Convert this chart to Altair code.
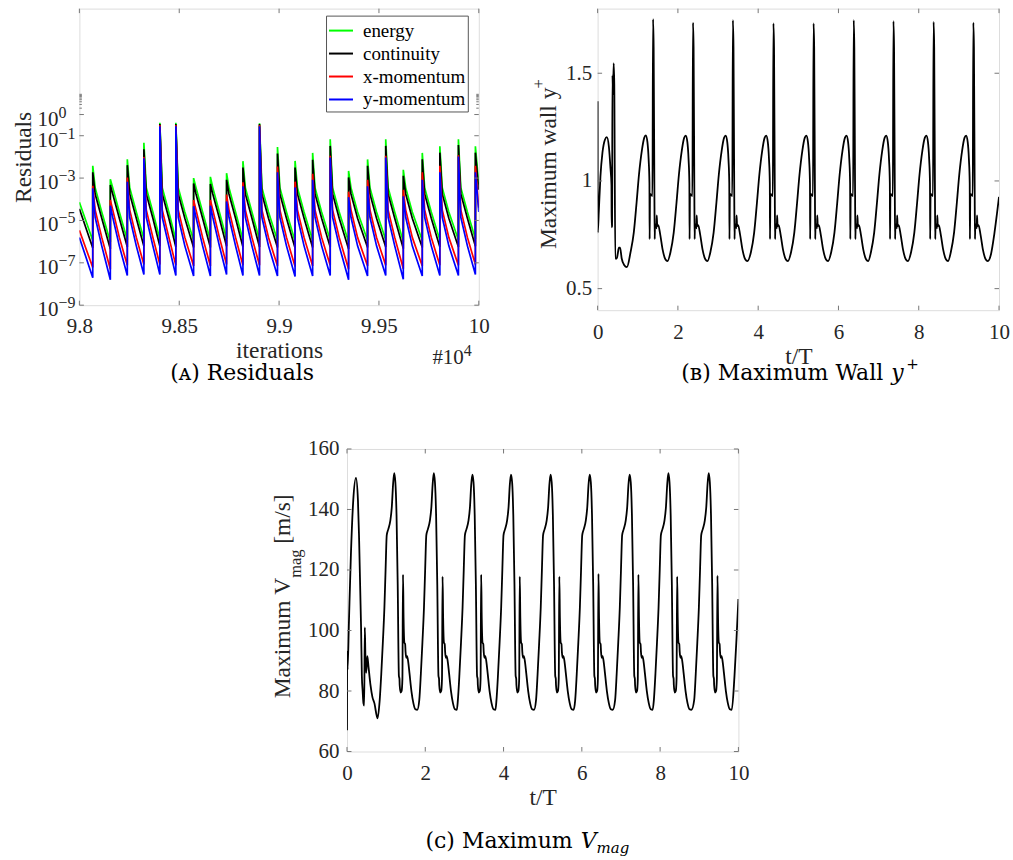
import altair as alt
import pandas as pd

FONT = "Liberation Serif"
CAPFONT = "DejaVu Serif"
TXT = "#262626"
FRAME = "#767676"
TL = 4.5
NB = "\u00a0"

# ---------------- (A) residuals : values read as log10 ----------------
A_SERIES = ["energy", "continuity", "x-momentum", "y-momentum"]
A_COLORS = ["#00ff00", "#000000", "#ff0000", "#0000ff"]
A_SPIKE_X = [9.8067, 9.8155, 9.8240, 9.8323, 9.8403, 9.8483, 9.8572, 9.8656, 9.8737,
             9.8819, 9.8902, 9.8992, 9.9080, 9.9168, 9.9256, 9.9348, 9.9443, 9.9534,
             9.9622, 9.9717, 9.9805, 9.9898, 9.9983]
A_PEAK_ENERGY = [-2.42, -3.05, -2.11, -1.33, -0.39, -0.39, -3.00, -2.94, -2.77, -2.20, -0.41, -1.53,
                 -2.19, -1.81, -1.17, -2.66, -2.12, -1.17, -2.61, -1.81, -1.50, -1.17, -1.50]
A_PEAK_CONT = [-2.73, -3.33, -2.39, -1.64, -0.45, -0.45, -3.25, -3.28, -3.08, -2.50, -0.45, -1.84,
               -2.50, -2.14, -1.48, -2.97, -2.42, -1.48, -2.89, -2.11, -1.80, -1.44, -1.80]
A_PEAK_XMOM = [-3.36, -4.03, -2.97, -2.00, -0.50, -0.50, -4.03, -4.03, -3.78, -3.20, -0.50, -2.45,
               -3.17, -2.80, -1.95, -3.64, -3.08, -1.95, -3.55, -2.73, -2.42, -1.92, -2.42]
A_PEAK_YMOM = [-3.48, -4.30, -3.17, -2.06, -0.55, -0.55, -4.33, -4.30, -4.10, -3.39, -0.55, -2.73,
               -3.44, -3.08, -2.03, -3.90, -3.39, -2.03, -3.86, -3.08, -2.73, -1.98, -2.73]
A_TROUGH_ENERGY = [-5.95, -6.02, -5.92, -5.88, -5.88, -5.92, -5.95, -5.95, -5.88, -5.92, -5.92, -5.95,
                   -5.98, -5.95, -5.92, -6.02, -5.95, -5.92, -6.00, -5.95, -5.92, -5.92, -5.88]
A_TROUGH_CONT = [-6.30, -6.35, -6.25, -6.22, -6.22, -6.25, -6.28, -6.28, -6.22, -6.25, -6.25, -6.28,
                 -6.30, -6.28, -6.25, -6.35, -6.28, -6.25, -6.33, -6.28, -6.25, -6.25, -6.22]
A_TROUGH_XMOM = [-7.22, -7.30, -7.12, -7.08, -7.08, -7.12, -7.15, -7.15, -7.08, -7.12, -7.12, -7.15,
                 -7.18, -7.15, -7.12, -7.30, -7.15, -7.12, -7.28, -7.15, -7.12, -7.12, -7.08]
A_TROUGH_YMOM = [-7.70, -7.80, -7.60, -7.55, -7.55, -7.60, -7.62, -7.62, -7.55, -7.60, -7.60, -7.62,
                 -7.65, -7.62, -7.60, -7.80, -7.62, -7.60, -7.78, -7.62, -7.60, -7.60, -7.55]
A_START = [-4.14, -4.45, -5.47, -5.80]     # value at 9.8
A_KNEE_DX = 0.0012                          # just after each jump
A_KNEE = [-3.45, -3.75, -4.50, -4.85]
A_MID_DX = 0.0045
A_MID = [-4.60, -4.90, -5.80, -6.20]
A_END = [-3.30, -3.55, -4.40, -4.60]        # value at 10.0
A_XTICKS = [9.8, 9.85, 9.9, 9.95, 10.0]
A_YTICK_EXP = [-9, -7, -5, -3, -1, 0]
A_YMINOR = [2, 3, 4, 5, 6, 7, 8, 9]

A_PEAKS = [A_PEAK_ENERGY, A_PEAK_CONT, A_PEAK_XMOM, A_PEAK_YMOM]
A_TROUGHS = [A_TROUGH_ENERGY, A_TROUGH_CONT, A_TROUGH_XMOM, A_TROUGH_YMOM]

rows = []
for s, name in enumerate(A_SERIES):
    pts = [(9.8, A_START[s])]
    n = len(A_SPIKE_X)
    for i, xs in enumerate(A_SPIKE_X):
        pts.append((xs, A_TROUGHS[s][i]))
        pts.append((xs, A_PEAKS[s][i]))
        if i < n - 1:
            pts.append((xs + A_KNEE_DX, A_KNEE[s]))
            pts.append((xs + A_MID_DX, A_MID[s]))
        else:
            pts.append((10.0, A_END[s]))
    for k, (x, v) in enumerate(pts):
        rows.append({"series": name, "x": x, "y": 10.0 ** v, "k": k})
df_a = pd.DataFrame(rows)

# ---------------- (B) maximum wall y+ ----------------
B_START_T = [0.0, 0.004, 0.03, 0.07, 0.12, 0.18, 0.23, 0.28, 0.32, 0.345, 0.35, 0.36, 0.37,
             0.385, 0.40, 0.415, 0.44, 0.48, 0.50, 0.53, 0.56, 0.60, 0.66, 0.73]
B_START_V = [1.37, 0.76, 0.86, 1.02, 1.13, 1.19, 1.203, 1.16, 1.06, 0.98, 0.785, 0.79, 1.49,
             1.40, 1.546, 1.45, 0.64, 0.64, 0.66, 0.69, 0.69, 0.64, 0.61, 0.60]
B_CYC_D = [-0.38, -0.30, -0.23, -0.17, -0.10, -0.04, 0.00, 0.04, 0.07, 0.09, 0.095, 0.105, 0.165,
           0.18, 0.195, 0.215, 0.222, 0.228, 0.265, 0.272, 0.285, 0.31, 0.36, 0.42, 0.49, 0.54]
B_CYC_V = [0.67, 0.76, 0.90, 1.03, 1.14, 1.20, None, 1.18, 1.10, 0.99, 0.73, 0.94, 0.93,
           "S", 1.62, 0.90, 0.73, 0.80, 0.78, 0.84, 0.79, 0.795, 0.75, 0.68, 0.635, 0.628]
B_PEAK_T = [1.201, 2.196, 3.19, 4.20, 5.20, 6.20, 7.19, 8.19, 9.18]
B_PEAK_V = [1.212, 1.21, 1.21, 1.21, 1.21, 1.21, 1.21, 1.21, 1.21]
B_SPIKE_V = [1.751, 1.735, 1.746, 1.731, 1.731, 1.746, 1.742, 1.738, 1.735]
B_END_T = [9.80, 9.88, 9.95, 10.0]
B_END_V = [0.66, 0.75, 0.85, 0.926]
B_XTICKS = [0, 2, 4, 6, 8, 10]
B_YTICKS = [0.5, 1.0, 1.5]

# ---------------- (C) maximum V_mag ----------------
C_START_T = [0.0, 0.004, 0.015, 0.05, 0.10, 0.16, 0.23, 0.28, 0.31, 0.36, 0.38, 0.40, 0.42, 0.44,
             0.455, 0.47, 0.49, 0.52, 0.55, 0.60, 0.65, 0.70, 0.78]
C_START_V = [67, 93, 87, 103, 125, 143, 150.4, 143, 130, 101, 85, 80, 76, 75.2,
             101, 92, 86, 91.5, 88, 82, 78, 76, 71]
C_CYC_D = [-0.37, -0.33, -0.29, -0.25, -0.22, -0.19, -0.15, -0.10, -0.06, -0.03, 0.0, 0.03, 0.06,
           0.09, 0.12, 0.135, 0.14, 0.165, 0.19, 0.21, 0.225, 0.24, 0.26, 0.28, 0.29, 0.31, 0.33,
           0.36, 0.39, 0.44, 0.49, 0.54, 0.59]
C_CYC_V = [77, 85.6, 96, 107.6, 120, 131.5, 133.5, 136.2, 141, 148, None, 149, 138,
           115, 85, 84, 82, 79.5, 80, 84, "S", 104, 96, 95.5, 93, 91, 91.5,
           89.5, 86, 80, 76, 74, 73.8]
C_PEAK_T = [1.206, 2.217, 3.203, 4.189, 5.20, 6.20, 7.22, 8.21, 9.24]
C_PEAK_V = [152, 152, 151.5, 151.5, 151.5, 151.5, 151.5, 152, 152]
C_SPIKE_V = [118.5, 117.8, 118.5, 117.8, 117.8, 118.7, 118.5, 117.8, 118.1]
C_END_T = [9.90, 9.95, 10.0]
C_END_V = [85, 97, 110.4]
C_XTICKS = [0, 2, 4, 6, 8, 10]
C_YTICKS = [60, 80, 100, 120, 140, 160]


def build(start_t, start_v, cyc_d, cyc_v, peak_t, peak_v, spike_v, end_t, end_v):
    t, v = list(start_t), list(start_v)
    for p, pv, sv in zip(peak_t, peak_v, spike_v):
        for d, val in zip(cyc_d, cyc_v):
            t.append(p + d)
            v.append(pv if val is None else (sv if val == "S" else val))
    t += end_t
    v += end_v
    return pd.DataFrame({"t": t, "v": v, "k": range(len(t))})


df_b = build(B_START_T, B_START_V, B_CYC_D, B_CYC_V, B_PEAK_T, B_PEAK_V, B_SPIKE_V, B_END_T, B_END_V)
df_c = build(C_START_T, C_START_V, C_CYC_D, C_CYC_V, C_PEAK_T, C_PEAK_V, C_SPIKE_V, C_END_T, C_END_V)

LBL = "datum.value + ''"


def xaxis(values, title, lp):
    return alt.Axis(values=values, labelExpr=LBL, ticks=False, tickSize=0, domain=False, grid=False,
                    labelFlush=False, labelOverlap=False, labelPadding=lp, labelFont=FONT,
                    labelFontSize=21, labelColor=TXT, title=title, titleFont=FONT,
                    titleFontSize=23.5, titleFontWeight="normal", titleColor=TXT, titlePadding=2)


def yaxis(values, lp):
    return alt.Axis(values=values, labelExpr=LBL, ticks=False, tickSize=0, domain=False, grid=False,
                    labelFlush=False, labelOverlap=False, labelPadding=lp, labelFont=FONT,
                    labelFontSize=21, labelColor=TXT, title=None)


def frame_ticks(xv, yv, xs, ys, xa, ya, W, H, yminor=None):
    dx = pd.DataFrame({"v": xv})
    dy = pd.DataFrame({"v": yv})
    r = dict(color=FRAME, strokeWidth=1)
    X = alt.X("v:Q", scale=xs, axis=xa)
    Y = alt.Y("v:Q", scale=ys, axis=ya)
    L = [
        alt.Chart(dx).mark_rule(**r).encode(x=X, y=alt.value(H), y2=alt.value(H - TL)),
        alt.Chart(dx).mark_rule(**r).encode(x=X, y=alt.value(0), y2=alt.value(TL)),
        alt.Chart(dy).mark_rule(**r).encode(y=Y, x=alt.value(0), x2=alt.value(TL)),
        alt.Chart(dy).mark_rule(**r).encode(y=Y, x=alt.value(W), x2=alt.value(W - TL)),
    ]
    if yminor is not None:
        dm = pd.DataFrame({"v": yminor})
        L += [
            alt.Chart(dm).mark_rule(**r).encode(y=Y, x=alt.value(0), x2=alt.value(2.5)),
            alt.Chart(dm).mark_rule(**r).encode(y=Y, x=alt.value(W), x2=alt.value(W - 2.5)),
        ]
    return L


def txt(s, x, y, size, font=FONT, **kw):
    color = kw.pop("color", TXT)
    return alt.Chart(pd.DataFrame({"s": [s]})).mark_text(font=font, fontSize=size, color=color, **kw).encode(
        x=alt.value(x), y=alt.value(y), text="s:N")


# ---------- chart A ----------
WA, HA = 400, 297
XA = alt.Scale(domain=[9.8, 10.0], nice=False, zero=False)
YA = alt.Scale(type="log", domain=[1e-9, 1e5], nice=False)
XAX_A = xaxis(A_XTICKS, "iterations", 10)
YAX_A = alt.Axis(labels=False, ticks=False, tickSize=0, domain=False, grid=False, title="Residuals",
                 titleFont=FONT, titleFontSize=23.5, titleFontWeight="normal", titleColor=TXT,
                 titlePadding=44)

lines_a = alt.Chart(df_a).mark_line(strokeWidth=1.7, clip=True).encode(
    x=alt.X("x:Q", scale=XA, axis=XAX_A),
    y=alt.Y("y:Q", scale=YA, axis=YAX_A),
    color=alt.Color("series:N", scale=alt.Scale(domain=A_SERIES, range=A_COLORS),
                    legend=alt.Legend(title=None, orient="none", legendX=247, legendY=7,
                                      symbolType="stroke", symbolSize=576, symbolStrokeWidth=2,
                                      labelFont=FONT, labelFontSize=19, labelColor="black",
                                      strokeColor="#555555", fillColor="white", padding=2,
                                      rowPadding=0, labelOffset=9, labelLimit=300)),
    order="k:Q",
)

df_ylab = pd.DataFrame({"v": [10.0 ** e for e in A_YTICK_EXP],
                        "e": [("\u2212" + str(-e)) if e < 0 else str(e) for e in A_YTICK_EXP]})
YENC = alt.Y("v:Q", scale=YA, axis=YAX_A)
lab10 = alt.Chart(df_ylab).mark_text(font=FONT, fontSize=21, color=TXT, align="right",
                                     baseline="alphabetic", dy=11).encode(
    x=alt.value(-21), y=YENC, text=alt.value("10"))
labexp = alt.Chart(df_ylab).mark_text(font=FONT, fontSize=16, color=TXT, align="left",
                                      baseline="alphabetic", dy=3).encode(
    x=alt.value(-21), y=YENC, text="e:N")

chart_a = alt.layer(
    lines_a,
    *frame_ticks(A_XTICKS, [10.0 ** e for e in A_YTICK_EXP], XA, YA, XAX_A, YAX_A, WA, HA,
                 yminor=A_YMINOR),
    lab10, labexp,
    txt("#10", 385, 356, 21, align="right", baseline="alphabetic"),
    txt("4", 385, 348, 16, align="left", baseline="alphabetic"),
    txt("(\u1d00)" + NB + "Residuals", 163, 372, 22, font=CAPFONT, align="center",
        baseline="alphabetic", color="black"),
).properties(width=WA, height=HA)

# ---------- chart B ----------
WB, HB = 402, 302
XB = alt.Scale(domain=[0, 10], nice=False, zero=False)
YB = alt.Scale(domain=[0.4, 1.8], nice=False, zero=False)
XAX_B = xaxis(B_XTICKS, "t/T", 11)
YAX_B = yaxis(B_YTICKS, 6)
line_b = alt.Chart(df_b).mark_line(strokeWidth=1.8, color="black", clip=True,
                                   interpolate="monotone").encode(
    x=alt.X("t:Q", scale=XB, axis=XAX_B), y=alt.Y("v:Q", scale=YB, axis=YAX_B), order="k:Q")
chart_b = alt.layer(
    line_b,
    *frame_ticks(B_XTICKS, B_YTICKS, XB, YB, XAX_B, YAX_B, WB, HB),
    txt("Maximum" + NB + "wall" + NB + "y", -42, 79, 23.5, align="right", baseline="alphabetic",
        angle=270),
    txt("+", -54, 80, 16.5, align="left", baseline="alphabetic", angle=270),
    txt("(\u0299)" + NB + "Maximum" + NB + "Wall", 286, 372, 22, font=CAPFONT, align="right",
        baseline="alphabetic", color="black"),
    txt("y", 294, 372, 22, font=CAPFONT, align="left", baseline="alphabetic", fontStyle="italic",
        color="black"),
    txt("+", 309, 361, 15, font=CAPFONT, align="left", baseline="alphabetic", color="black"),
).properties(width=WB, height=HB)

# ---------- chart C ----------
WC, HC = 392, 303
XC = alt.Scale(domain=[0, 10], nice=False, zero=False)
YC = alt.Scale(domain=[60, 160], nice=False, zero=False)
XAX_C = xaxis(C_XTICKS, "t/T", 11)
YAX_C = yaxis(C_YTICKS, 8)
line_c = alt.Chart(df_c).mark_line(strokeWidth=1.8, color="black", clip=True,
                                   interpolate="monotone").encode(
    x=alt.X("t:Q", scale=XC, axis=XAX_C), y=alt.Y("v:Q", scale=YC, axis=YAX_C), order="k:Q")
chart_c = alt.layer(
    line_c,
    *frame_ticks(C_XTICKS, C_YTICKS, XC, YC, XAX_C, YAX_C, WC, HC),
    txt("Maximum" + NB + "V", -57, 129, 23.5, align="right", baseline="alphabetic", angle=270),
    txt("mag", -46, 129, 16.5, align="left", baseline="alphabetic", angle=270),
    txt("[m/s]", -57, 95, 23.5, align="left", baseline="alphabetic", angle=270),
    txt("(\u1d04)" + NB + "Maximum", 226, 400, 22, font=CAPFONT, align="right",
        baseline="alphabetic", color="black"),
    txt("V", 234, 400, 22, font=CAPFONT, align="left", baseline="alphabetic", fontStyle="italic",
        color="black"),
    txt("mag", 250, 405, 15, font=CAPFONT, align="left", baseline="alphabetic", fontStyle="italic",
        color="black"),
).properties(width=WC, height=HC)

spacer = alt.Chart(pd.DataFrame({"a": [0]})).mark_point(opacity=0).encode(
    x=alt.value(0), y=alt.value(0)).properties(width=268, height=HC, view=alt.ViewBackground(stroke=None))

top = alt.hconcat(chart_a, chart_b, spacing=119, bounds="flush")
bottom = alt.hconcat(spacer, chart_c, spacing=0, bounds="flush")
# with flush bounds the nested rows take no height, so the gap is measured from the top row's top
chart = alt.vconcat(top, bottom, spacing=441, bounds="flush").properties(
    padding={"left": 10.5, "top": 7, "right": 3, "bottom": 2}
).configure_view(stroke=FRAME, strokeWidth=1).configure(background="white", font=FONT)

chart.save("out.html", embed_options={"renderer": "svg", "actions": False})
